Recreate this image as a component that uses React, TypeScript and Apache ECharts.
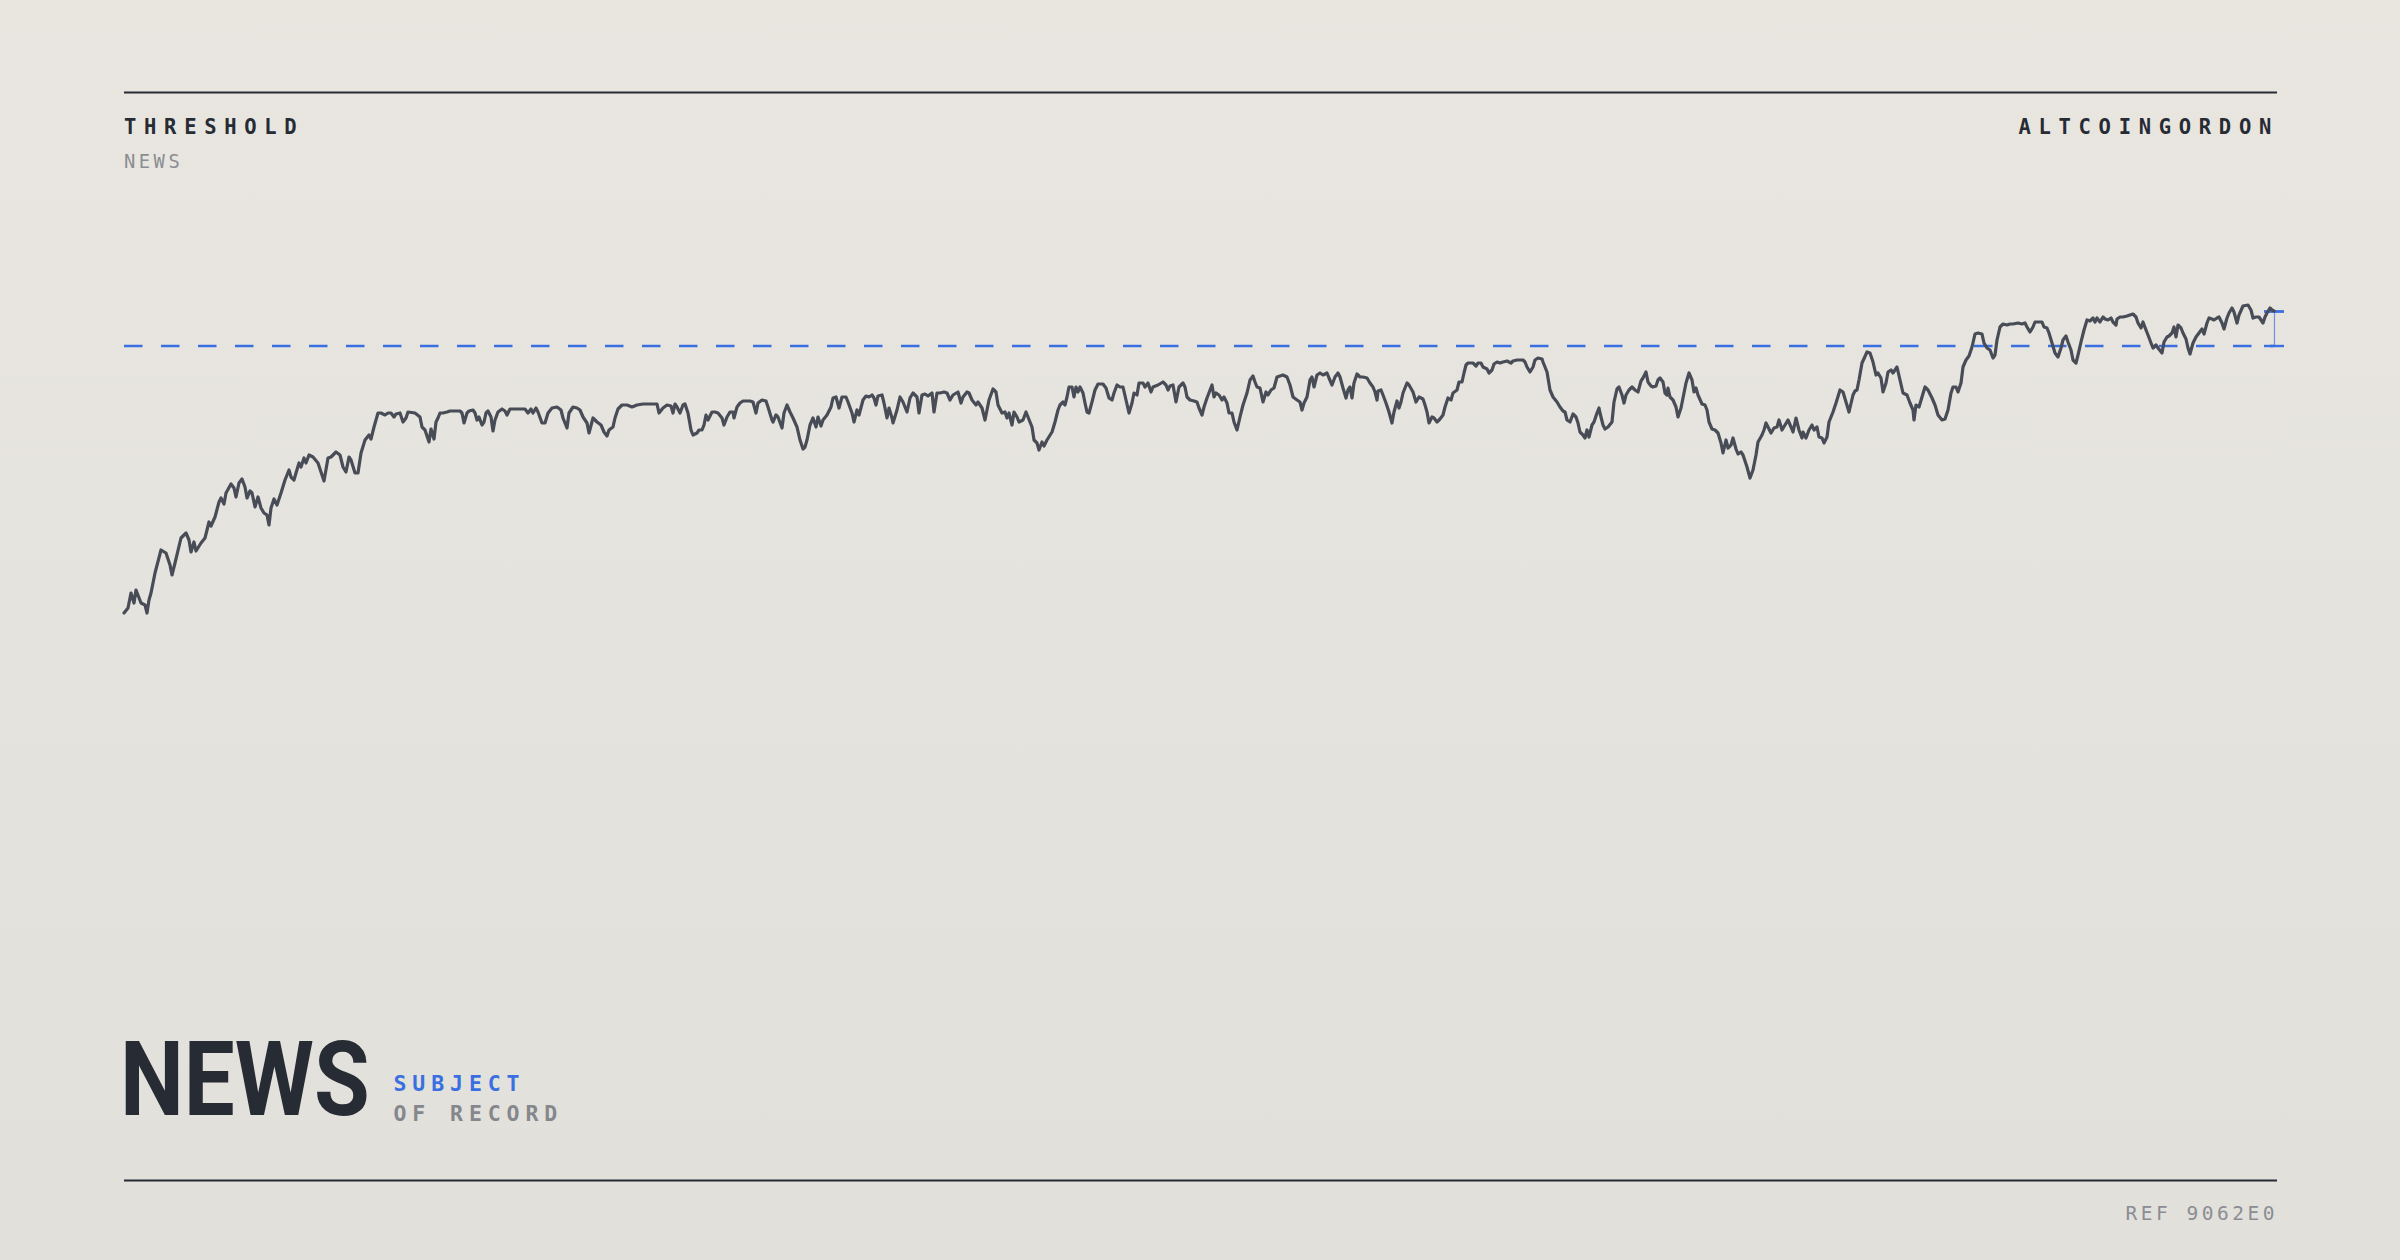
import React, { useEffect, useRef } from "react";
import * as echarts from "echarts";

// ---------- DATA ----------
const THRESHOLD_LEVEL = 300;
const X_MIN = 0;
const X_MAX = 2160;
const Y_MIN = 0;
const Y_MAX = 400;

const headerLeftTitle = "THRESHOLD";
const headerLeftSub = "NEWS";
const headerRight = "ALTCOINGORDON";
const bigTitle = "NEWS";
const subjectLine1 = "SUBJECT";
const subjectLine2 = "OF RECORD";
const refCode = "REF 9062E0";

// [day, level]
const riseLevels: [number, number][] = [
  [0,33],[4,38],[7,53],[10,43],[12,56],[17,43],[21,41],[23,33],[25,46],[27,53],[31,73],[37,96],[42,93],[46,81],[48,71],[51,83],[57,108],[62,113],[65,106],[67,94],[70,104],[72,95],[77,103],[81,108],[85,124],[87,120],[91,129],[95,144],[97,148],[100,142],[102,153],[107,162],[110,158],[112,149],[115,163],[118,167],[121,159],[123,148],[126,155],[128,153],[131,139],[134,149],[137,138],[140,133],[143,131],[145,121],[147,138],[150,147],[153,141],[157,153],[161,166],[165,176],[167,169],[170,166],[172,173],[175,183],[177,179],[180,188],[182,183],[185,191],[189,189],[194,183],[197,174],[200,165],[204,188],[207,189],[212,194],[216,191],[219,179],[222,174],[225,189],[227,186],[231,173],[234,173],[237,193],[241,206],[245,211],[247,207],[250,219],[254,233],[257,233],[261,231],[264,233],[267,233],[270,229],[272,232],[276,233],[279,224],[282,228],[284,234],[291,233],[296,229],[298,219],[301,216],[305,204],[307,217],[310,207],[312,224],[314,228]
];
const plateauLevels: [number, number][] = [
  [316,233],[319,233],[323,234],[326,235],[331,235],[336,235],[338,233],[340,223],[343,233],[345,235],[349,236],[351,233],[353,226],[355,229],[358,221],[360,224],[362,233],[364,235],[367,229],[369,215],[371,226],[374,234],[378,237],[381,235],[383,231],[386,237],[393,237],[401,237],[404,233],[407,237],[409,233],[412,238],[414,234],[418,223],[421,223],[424,233],[428,238],[433,239],[437,236],[439,228],[443,218],[445,233],[449,239],[453,238],[456,236],[459,229],[463,223],[465,213],[469,228],[473,224],[477,221],[480,214],[483,210],[485,216],[489,219],[491,228],[494,237],[498,241],[503,241],[508,239],[513,241],[519,242],[526,242],[533,242],[535,233],[539,238],[543,241],[547,240],[549,233],[551,242],[553,239],[556,233],[559,241],[561,242],[564,233],[567,216],[569,211],[573,213],[575,216],[578,216],[580,221],[582,231],[584,226],[588,234],[591,234],[594,233],[598,228],[600,221],[603,229],[606,234],[609,234],[610,228],[613,239],[616,243],[619,245],[626,245]
];
const middleLevels: [number, number][] = [
  [629,244],[632,233],[634,243],[638,246],[642,245],[644,239],[648,226],[649,224],[652,231],[654,229],[658,218],[660,233],[663,241],[666,234],[669,228],[673,219],[676,206],[679,197],[681,199],[683,206],[686,221],[689,228],[692,219],[694,229],[697,220],[699,226],[703,231],[707,239],[709,248],[712,249],[715,238],[718,249],[722,249],[724,244],[728,233],[730,224],[733,236],[735,231],[739,246],[742,250],[745,249],[748,251],[750,248],[752,241],[754,250],[758,251],[760,243],[763,228],[765,238],[768,228],[769,223],[773,236],[776,249],[779,244],[783,234],[786,248],[789,253],[793,249],[795,233],[798,251],[801,252],[804,250],[808,253],[810,234],[813,253],[816,253],[820,254],[823,253],[826,246],[829,251],[834,254],[837,243],[839,249],[843,254],[845,253],[848,246],[852,241],[854,244],[858,238],[861,226],[863,236],[865,246],[869,257],[872,254],[874,241],[878,233],[881,234],[883,228],[885,233],[888,221],[890,234],[893,229],[895,224],[899,226],[902,234],[904,229],[908,219],[910,206],[913,203],[915,196],[918,204],[920,200],[923,206],[928,214],[931,224],[934,236],[936,241]
];
const upperLevels: [number, number][] = [
  [939,244],[941,241],[943,249],[945,259],[948,259],[950,249],[952,259],[954,254],[956,259],[959,253],[961,243],[963,234],[965,233],[968,244],[971,256],[974,262],[979,262],[982,258],[985,248],[988,246],[990,253],[993,261],[996,259],[999,259],[1002,246],[1005,233],[1008,243],[1010,253],[1013,251],[1015,263],[1019,263],[1021,259],[1024,263],[1027,254],[1029,259],[1034,261],[1039,264],[1042,261],[1044,256],[1046,260],[1049,261],[1052,244],[1055,259],[1059,263],[1061,259],[1063,249],[1066,246],[1070,245],[1073,244],[1075,238],[1078,231],[1080,239],[1083,248],[1088,261],[1090,249],[1092,253],[1095,251],[1098,246],[1100,249],[1103,243],[1105,233],[1108,233],[1110,224],[1113,216],[1116,229],[1119,241],[1123,253],[1126,266],[1129,270],[1131,264],[1133,259],[1136,258],[1139,244],[1142,254],[1144,251],[1147,256],[1150,258],[1153,269],[1156,270],[1159,271],[1163,269],[1166,261],[1169,249],[1173,246],[1176,244],[1178,236],[1180,243],[1183,249],[1186,266],[1188,269],[1190,259],[1193,271],[1196,273],[1199,271],[1203,273],[1205,268],[1208,261],[1211,269],[1214,273],[1216,269],[1219,258],[1222,248],[1224,256],[1226,259],[1228,248],[1230,263],[1233,272],[1236,269],[1239,269],[1243,268],[1246,263]
];
const peakLevels: [number, number][] = [
  [1249,259],[1251,254],[1253,246],[1254,255],[1257,256],[1259,251],[1262,243],[1265,234],[1268,223],[1270,234],[1273,245],[1275,238],[1277,244],[1279,253],[1283,263],[1285,261],[1289,254],[1292,244],[1295,249],[1299,247],[1301,241],[1303,234],[1305,223],[1308,229],[1310,228],[1313,224],[1316,227],[1319,231],[1321,239],[1324,248],[1327,246],[1329,253],[1333,256],[1335,264],[1338,264],[1340,273],[1342,281],[1344,283],[1349,283],[1352,280],[1354,283],[1357,283],[1359,279],[1363,277],[1365,273],[1368,276],[1370,282],[1373,284],[1376,283],[1379,284],[1383,285],[1387,283],[1389,285],[1393,286],[1399,286],[1401,284],[1403,279],[1406,274],[1409,279],[1411,286],[1414,288],[1418,287],[1419,284],[1421,279],[1423,274],[1426,256],[1429,249],[1433,244],[1436,239],[1439,235],[1441,234],[1443,226],[1446,224],[1449,232],[1452,229],[1454,223],[1456,214],[1459,211],[1461,208],[1463,216],[1465,209],[1468,221],[1470,224],[1473,233],[1475,238],[1476,233],[1479,221],[1481,217],[1484,219],[1488,224],[1490,244],[1493,257],[1495,259],[1498,251],[1500,243],[1502,251],[1505,256],[1508,259],[1511,256],[1514,254],[1517,265],[1519,268],[1522,274],[1524,264],[1527,260],[1529,259],[1532,260],[1534,266],[1536,268],[1539,264],[1541,253],[1543,251],[1544,258],[1546,249],[1549,246],[1552,239],[1554,229]
];
const dipLevels: [number, number][] = [
  [1557,238],[1559,248],[1562,263],[1565,273],[1568,266],[1570,254],[1572,258],[1574,251],[1578,242],[1581,241],[1583,236],[1585,224],[1588,217],[1591,216],[1594,213],[1597,203],[1599,193],[1602,206],[1604,198],[1607,201],[1609,208],[1612,197],[1614,192],[1617,194],[1619,191],[1623,179],[1626,168],[1629,176],[1632,191],[1634,204],[1638,211],[1640,216],[1642,223],[1644,219],[1647,213],[1650,218],[1653,219],[1655,226],[1658,216],[1661,221],[1664,226],[1667,219],[1669,214],[1672,228],[1675,216],[1678,208],[1679,214],[1682,208],[1685,216],[1688,221],[1690,216],[1693,219],[1695,209],[1698,208],[1700,203],[1703,209],[1705,224],[1709,234],[1712,243],[1716,256],[1719,254],[1722,244],[1725,234],[1729,251],[1731,255],[1733,256],[1735,266],[1738,283],[1743,294],[1746,293],[1749,284],[1752,271],[1754,273],[1757,268],[1759,254],[1762,263],[1764,274],[1767,276],[1769,273],[1773,279],[1776,266],[1779,253],[1783,251],[1786,243],[1789,236],[1790,226],[1792,241],[1795,239],[1798,249],[1801,259],[1804,256],[1808,248],[1811,241],[1814,231],[1818,226],[1821,227],[1824,236],[1827,253],[1829,259],[1832,259],[1834,254],[1837,263],[1839,279],[1842,286],[1845,290],[1848,299],[1851,312],[1854,313],[1858,312],[1860,303],[1863,298],[1866,296]
];
const breakoutLevels: [number, number][] = [
  [1869,288],[1871,291],[1873,306],[1876,319],[1879,322],[1883,321],[1886,322],[1889,322],[1894,323],[1898,322],[1901,323],[1903,319],[1906,314],[1909,319],[1911,324],[1914,324],[1918,324],[1920,319],[1923,318],[1925,313],[1928,303],[1931,293],[1934,289],[1937,298],[1939,306],[1942,310],[1944,304],[1947,296],[1949,286],[1952,283],[1954,291],[1957,304],[1960,316],[1963,326],[1966,325],[1969,328],[1971,324],[1973,328],[1976,324],[1979,329],[1981,327],[1984,326],[1987,328],[1989,324],[1992,321],[1993,327],[1996,329],[1999,329],[2003,330],[2006,331],[2009,332],[2012,329],[2014,323],[2017,318],[2019,324],[2022,316],[2024,311],[2027,303],[2029,298],[2032,301],[2034,298],[2038,293],[2040,304],[2043,309],[2045,310],[2048,313],[2050,319],[2052,309],[2054,321],[2057,318],[2059,313],[2062,307],[2064,298],[2066,292],[2069,303],[2072,309],[2075,313],[2078,317],[2080,312],[2083,323],[2085,328],[2088,327],[2090,326],[2093,328],[2095,329],[2098,323],[2100,317],[2103,328],[2105,333],[2108,338],[2110,334],[2113,323],[2115,331],[2119,340],[2124,341],[2127,336],[2129,328],[2132,329],[2135,329],[2139,323],[2141,329],[2143,333],[2146,338],[2148,336],[2150,335]
];

const allLevels: [number, number][] = [
  ...riseLevels, ...plateauLevels, ...middleLevels, ...upperLevels,
  ...peakLevels, ...dipLevels, ...breakoutLevels,
];

// ---------- STYLE ----------
const INK = "#272b34";
const LINE = "#484c56";
const BLUE = "#3a6fe2";
const GREY = "#8b8d93";
const GREY2 = "#85878d";
const MONO = "'DejaVu Sans Mono'";

const css = `
text[style*="xhdr"] { letter-spacing: 7.7px; }
text[style*="xsub"] { letter-spacing: 5.9px; }
text[style*="xsml"] { letter-spacing: 3.5px; }
`;

export default function App() {
  const ref = useRef<HTMLDivElement>(null);
  useEffect(() => {
    if (!ref.current) return;
    const chart = echarts.init(ref.current, null, { renderer: "svg", width: 2400, height: 1260 });
    const last = allLevels[allLevels.length - 1];
    const lastDay = last[0];
    const latest = last[1];
    const capHalf = 10;

    const txt = (x: number, y: number, text: string, o: any) => ({
      type: "text",
      x,
      y,
      silent: true,
      style: {
        text,
        textVerticalAlign: "middle",
        textBaseline: "middle",
        ...o,
      },
    });

    chart.setOption({
      animation: false,
      backgroundColor: {
        type: "linear", x: 0, y: 0, x2: 0, y2: 1,
        colorStops: [
          { offset: 0, color: "#e9e6e0" },
          { offset: 1, color: "#e1e0db" },
        ],
      },
      grid: { left: 124, right: 116, top: 246, bottom: 614, containLabel: false },
      xAxis: { type: "value", min: X_MIN, max: X_MAX, show: false },
      yAxis: { type: "value", min: Y_MIN, max: Y_MAX, show: false },
      series: [
        {
          type: "line",
          data: allLevels,
          showSymbol: false,
          symbol: "none",
          smooth: false,
          clip: false,
          z: 3,
          lineStyle: { color: LINE, width: 3.2, join: "round", cap: "round" },
          markLine: {
            silent: true,
            symbol: ["none", "none"],
            label: { show: false },
            z: 2,
            data: [
              [
                { coord: [X_MIN, THRESHOLD_LEVEL], lineStyle: { color: BLUE, width: 2.4, type: [18.5, 18.5], opacity: 1 } },
                { coord: [lastDay, THRESHOLD_LEVEL] },
              ],
              [
                { coord: [lastDay, THRESHOLD_LEVEL], lineStyle: { color: BLUE, width: 1.2, type: "solid", opacity: 0.7 } },
                { coord: [lastDay, latest] },
              ],
              [
                { coord: [lastDay - capHalf, latest], lineStyle: { color: BLUE, width: 2.8, type: "solid", opacity: 1 } },
                { coord: [lastDay + capHalf, latest] },
              ],
              [
                { coord: [lastDay - capHalf, THRESHOLD_LEVEL], lineStyle: { color: BLUE, width: 2.4, type: "solid", opacity: 1 } },
                { coord: [lastDay + capHalf, THRESHOLD_LEVEL] },
              ],
            ],
          },
        },
      ],
      graphic: [
        { type: "line", silent: true, shape: { x1: 124, y1: 92.5, x2: 2277, y2: 92.5 }, style: { stroke: INK, lineWidth: 2.2 } },
        { type: "line", silent: true, shape: { x1: 124, y1: 1180.5, x2: 2277, y2: 1180.5 }, style: { stroke: INK, lineWidth: 2.2 } },
        txt(124, 127, headerLeftTitle, { fill: INK, fontSize: 20.5, fontWeight: "bold", fontFamily: MONO + ", xhdr", textAlign: "left" }),
        txt(124, 161, headerLeftSub, { fill: GREY, fontSize: 18.8, fontWeight: "normal", fontFamily: MONO + ", xsml", textAlign: "left" }),
        txt(2279, 127, headerRight, { fill: INK, fontSize: 20.5, fontWeight: "bold", fontFamily: MONO + ", xhdr", textAlign: "right" }),
        {
          type: "text",
          x: 120,
          y: 1080,
          scaleX: 0.87,
          silent: true,
          style: {
            text: bigTitle,
            fill: INK,
            fontSize: 104,
            fontWeight: "bold",
            fontFamily: "Roboto",
            textAlign: "left",
            textVerticalAlign: "middle",
            textBaseline: "middle",
          },
        },
        txt(393.5, 1083, subjectLine1, { fill: BLUE, fontSize: 21.5, fontWeight: "bold", fontFamily: MONO + ", xsub", textAlign: "left" }),
        txt(393.5, 1113, subjectLine2, { fill: GREY2, fontSize: 21.5, fontWeight: "bold", fontFamily: MONO + ", xsub", textAlign: "left" }),
        txt(2278, 1213, refCode, { fill: GREY, fontSize: 19.5, fontWeight: "normal", fontFamily: MONO + ", xsml", textAlign: "right" }),
      ],
    });
    return () => chart.dispose();
  }, []);

  return (
    <>
      <style>{css}</style>
      <div ref={ref} style={{ position: "fixed", left: 0, top: 0, width: 2400, height: 1260 }} />
    </>
  );
}
